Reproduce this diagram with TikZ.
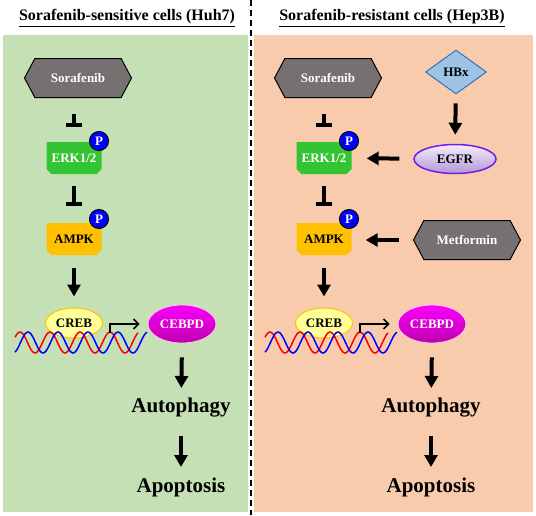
\documentclass[tikz,border=0pt]{standalone}
\usepackage{fontspec}
\setmainfont{Liberation Serif}
\usepackage{tikz}
\definecolor{bggreen}{RGB}{197,224,180}
\definecolor{bgorange}{RGB}{248,203,173}
\definecolor{druggray}{RGB}{118,113,113}
\definecolor{erkgreen}{RGB}{51,196,51}
\definecolor{ampkgold}{RGB}{255,192,0}
\definecolor{crebfill}{RGB}{255,255,153}
\definecolor{cebpdtop}{RGB}{250,0,250}
\definecolor{cebpdbot}{RGB}{190,0,175}
\definecolor{egfrtop}{RGB}{245,238,252}
\definecolor{egfrbot}{RGB}{180,150,215}
\definecolor{egfrline}{RGB}{110,30,230}
\definecolor{hbxfill}{RGB}{157,195,230}
\definecolor{hbxline}{RGB}{46,117,182}
\usetikzlibrary{positioning,arrows.meta,shapes.geometric,shapes.symbols}
\newcommand*{\smallbf}{\bfseries\fontsize{13}{15}\selectfont}
\newcommand*{\largebf}{\bfseries\fontsize{21}{25}\selectfont}
\tikzset{%
  title/.style={inner sep=0pt, font=\bfseries\fontsize{16}{19}\selectfont},% panel heading
  drug/.style={signal, signal to=west and east, signal pointer angle=124,
    draw, line width=1pt, fill=druggray, text=white, minimum width=107pt,
    minimum height=39pt, inner sep=0pt, font=\smallbf},% drug hexagon
  kinase/.style={rectangle, minimum width=55pt, minimum height=32pt, inner sep=0pt,
    font=\smallbf, path picture={
      \fill[#1] (path picture bounding box.north west) -- (path picture bounding box.north east)
        -- ([yshift=5pt]path picture bounding box.south east)
        -- ([xshift=-5pt]path picture bounding box.south east)
        -- ([xshift=5pt]path picture bounding box.south west)
        -- ([yshift=5pt]path picture bounding box.south west) -- cycle;}},% kinase box, cut corners
  phos/.style={circle, draw, line width=1pt, fill=blue, text=white,
    minimum size=19pt, inner sep=0pt, font=\smallbf},% phosphate
  creb/.style={ellipse, draw=ampkgold, line width=1pt, fill=crebfill,
    minimum width=57pt, minimum height=30pt, inner sep=0pt, font=\smallbf},
  cebpd/.style={ellipse, draw=white!80!magenta, line width=0.8pt, top color=cebpdtop,
    bottom color=cebpdbot, text=white, minimum width=68pt, minimum height=38pt,
    inner sep=0pt, font=\smallbf},
  outcome/.style={inner sep=0pt, font=\largebf},% autophagy / apoptosis
  inhibit/.style={line width=4pt, -{Bar[width=16pt]}},% blocking edge
  activate/.style={line width=4pt, -{Triangle[width=13pt, length=12pt]}},% activating edge
  tss/.style={line width=1.5pt, -{Straight Barb[length=5pt, width=10pt]}, shorten >=8pt},% transcription start
  dnared/.style={red, line width=1.5pt, smooth, samples=90},
  dnablue/.style={blue, line width=1.5pt, smooth, samples=90}
}

\begin{document}
\begin{tikzpicture}[x=1pt, y=-1pt]
\useasboundingbox (0,0) rectangle (536,515);
\fill[bggreen] (3,35) rectangle (248,512);
\fill[bgorange] (254,35) rectangle (533,512);
\draw[line width=2.5pt, dash pattern=on 6pt off 4pt] (251,0) -- (251,515);

\node[title] (tl) at (127,18) {\underline{Sorafenib-sensitive cells (Huh7)}};
\node[title] (tr) at (392,18) {\underline{Sorafenib-resistant cells (Hep3B)}};

% sensitive cells
\node[drug] (L-sor) at (78,78) {Sorafenib};
\node[kinase=erkgreen, text=white] (L-erk) at (74,158) {ERK1/2};
\node[kinase=ampkgold] (L-ampk) at (74,239) {AMPK};
\node[phos] (L-perk) at (99,141) {P};
\node[phos] (L-pampk) at (99,219) {P};
\node[creb] (L-creb) at (74,323) {CREB};
\node[cebpd] (L-cebpd) at (182,324) {CEBPD};
\node[outcome] (L-auto) at (181,408) {Autophagy};
\node[outcome] (L-apo) at (181,487) {Apoptosis};
\coordinate (L-tss) at (110,333);
\draw[dnared] plot[domain=15:138] (\x,{342.5-10.5*cos(12*(\x-20))});
\draw[dnablue] plot[domain=15:147] (\x,{342.5-10.5*cos(12*(\x-28))});

\draw[inhibit, shorten <=16pt, shorten >=15pt] (L-sor.south -| L-erk) -- (L-erk);
\draw[inhibit, shorten <=12pt, shorten >=17pt] (L-erk) -- (L-ampk);
\draw[activate, shorten <=13pt, shorten >=11pt] (L-ampk) -- (L-creb);
\draw[tss] (L-tss) |- (L-cebpd);
\draw[activate, shorten <=14pt, shorten >=20pt] (L-cebpd.south) -- (L-auto.center);
\draw[activate, shorten <=28pt, shorten >=20pt] (L-auto.center) -- (L-apo.center);

% resistant cells
\node[drug] (R-sor) at (328,78) {Sorafenib};
\node[diamond, aspect=1.4, draw=hbxline, line width=1pt, fill=hbxfill, minimum width=61pt,
  minimum height=44pt, inner sep=0pt, font=\smallbf] (R-hbx) at (456,72) {HBx};
\node[kinase=erkgreen, text=white] (R-erk) at (324,158) {ERK1/2};
\node[ellipse, draw=egfrline, line width=1.5pt, top color=egfrtop, bottom color=egfrbot,
  minimum width=82pt, minimum height=29pt, inner sep=0pt, font=\smallbf] (R-egfr) at (455,159) {EGFR};
\node[kinase=ampkgold] (R-ampk) at (324,239) {AMPK};
\node[drug] (R-met) at (467,240) {Metformin};
\node[phos] (R-perk) at (349,141) {P};
\node[phos] (R-pampk) at (349,219) {P};
\node[creb] (R-creb) at (324,323) {CREB};
\node[cebpd] (R-cebpd) at (432,324) {CEBPD};
\node[outcome] (R-auto) at (431,408) {Autophagy};
\node[outcome] (R-apo) at (431,487) {Apoptosis};
\coordinate (R-tss) at (360,333);
\draw[dnared] plot[domain=265:388] (\x,{342.5-10.5*cos(12*(\x-270))});
\draw[dnablue] plot[domain=265:397] (\x,{342.5-10.5*cos(12*(\x-278))});

\draw[inhibit, shorten <=16pt, shorten >=15pt] (R-sor.south -| R-erk) -- (R-erk);
\draw[inhibit, shorten <=12pt, shorten >=17pt] (R-erk) -- (R-ampk);
\draw[activate, shorten <=9pt, shorten >=9pt] (R-hbx) -- (R-egfr);
\draw[activate, shorten <=14pt, shorten >=15pt] (R-egfr) -- (R-erk);
\draw[activate, shorten <=14pt, shorten >=14pt] (R-met.west) -- (R-met.west -| R-ampk.east);
\draw[activate, shorten <=13pt, shorten >=11pt] (R-ampk) -- (R-creb);
\draw[tss] (R-tss) |- (R-cebpd);
\draw[activate, shorten <=14pt, shorten >=20pt] (R-cebpd.south) -- (R-auto.center);
\draw[activate, shorten <=28pt, shorten >=20pt] (R-auto.center) -- (R-apo.center);

\end{tikzpicture}
\end{document}
